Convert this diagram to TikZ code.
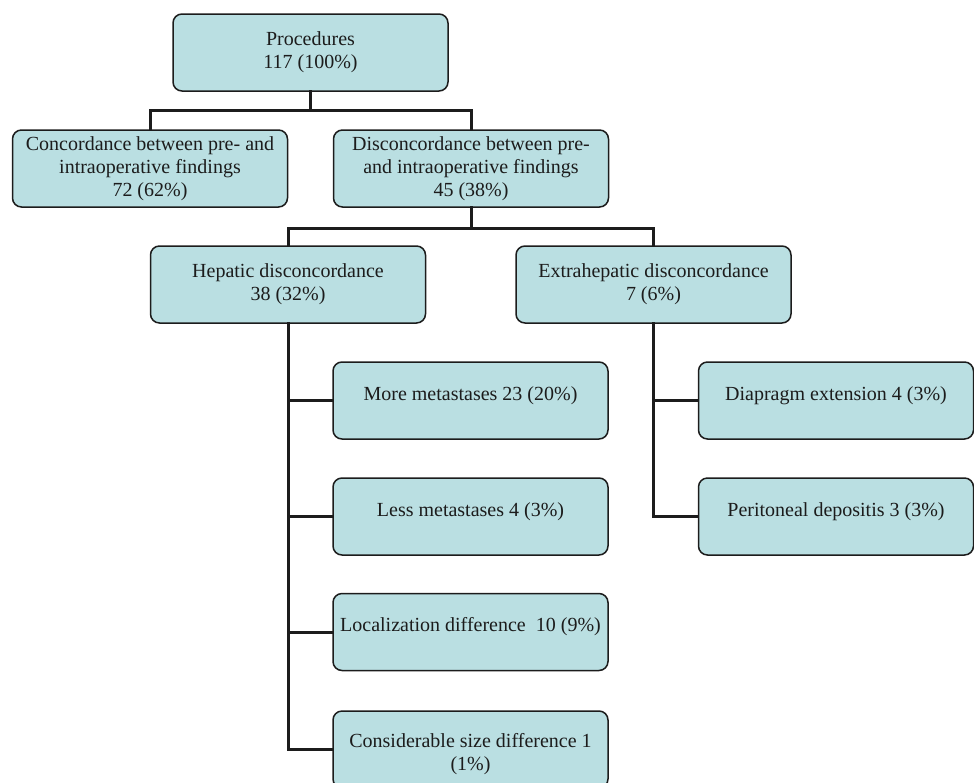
\documentclass[tikz,border=0pt]{standalone}
\usepackage{fontspec}
\setmainfont{Liberation Serif}
\definecolor{boxfill}{RGB}{186,223,226}
\definecolor{ink}{RGB}{28,28,28}
\begin{document}
\begin{tikzpicture}[x=1pt,y=-1pt,
  box/.style={draw=ink, line width=1.5pt, fill=boxfill, rounded corners=9pt,
    minimum width=275pt, minimum height=77pt, inner sep=2pt, align=center,
    font=\fontsize{20}{23}\selectfont, text=ink},
  conn/.style={draw=ink, line width=3pt, line join=miter, line cap=rect}]
\useasboundingbox (0,0) rectangle (974,782);
% nodes
\node[box] (top)   at (310.5,52.5)  {Procedures\\117 (100\%)};
\node[box] (conc)  at (150,168.5)   {Concordance between pre- and\\intraoperative findings\\72 (62\%)};
\node[box] (disc)  at (471,168.5)   {Disconcordance between pre-\\and intraoperative findings\\45 (38\%)};
\node[box] (hep)   at (288,284.5)   {Hepatic disconcordance\\38 (32\%)};
\node[box] (ext)   at (653.5,284.5) {Extrahepatic disconcordance\\7 (6\%)};
\node[box] (more)  at (470.5,400.5) {\raisebox{5pt}[\height][\depth]{More metastases 23 (20\%)}};
\node[box] (less)  at (470.5,516.5) {\raisebox{5pt}[\height][\depth]{Less metastases 4 (3\%)}};
\node[box] (loc)   at (470.5,632)   {\raisebox{5pt}[\height][\depth]{Localization difference\ \ 10 (9\%)}};
\node[box] (cons)  at (470.5,749.5) {\raisebox{-5pt}[\height][\depth]{\begin{tabular}{@{}c@{}}Considerable size difference 1\\(1\%)\end{tabular}}};
\node[box] (diap)  at (836,400.5)   {\raisebox{5pt}[\height][\depth]{Diapragm extension 4 (3\%)}};
\node[box] (perit) at (836,516.5)   {\raisebox{5pt}[\height][\depth]{Peritoneal depositis 3 (3\%)}};
% junctions
\coordinate (j1) at (311,110);
\coordinate (j2) at (471,228);
% connectors
\draw[conn] (top.south) -- (top.south |- j1);
\draw[conn] (conc.north) -- (conc.north |- j1) -- (disc.north |- j1) -- (disc.north);
\draw[conn] (disc.south) -- (disc.south |- j2);
\draw[conn] (hep.north) -- (hep.north |- j2) -- (ext.north |- j2) -- (ext.north);
\draw[conn] (hep.south) |- (cons.west);
\draw[conn] (hep.south |- more.west) -- (more.west);
\draw[conn] (hep.south |- less.west) -- (less.west);
\draw[conn] (hep.south |- loc.west) -- (loc.west);
\draw[conn] (ext.south) |- (perit.west);
\draw[conn] (ext.south |- diap.west) -- (diap.west);
\end{tikzpicture}
\end{document}
